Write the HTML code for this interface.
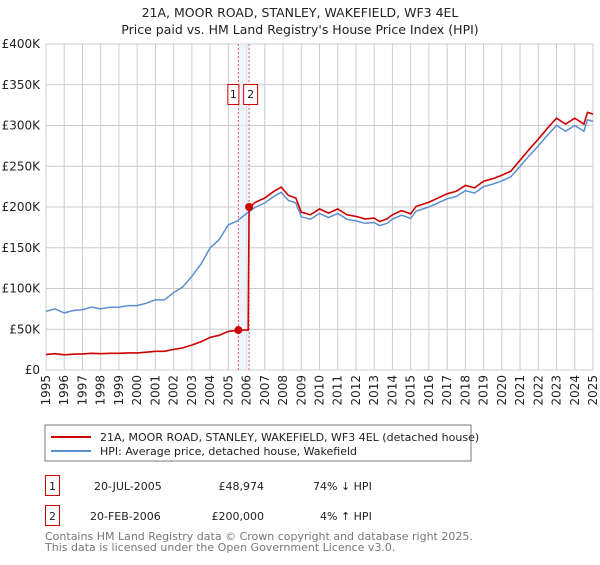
<!DOCTYPE html>
<html><head><meta charset="utf-8"><style>
body{margin:0;background:#fff;font-family:"Liberation Sans","DejaVu Sans",sans-serif;}
svg text{font-family:"DejaVu Sans","Liberation Sans",sans-serif;}
</style></head><body>
<svg id="c" width="600" height="560" xmlns="http://www.w3.org/2000/svg">
<text x="300" y="17" text-anchor="middle" font-size="12.5" fill="#222">21A, MOOR ROAD, STANLEY, WAKEFIELD, WF3 4EL</text>
<text x="300" y="34" text-anchor="middle" font-size="12.5" fill="#222">Price paid vs. HM Land Registry's House Price Index (HPI)</text>
<g id="grid"></g><g id="band"></g><g id="lines"></g><g id="marks"></g><g id="ax"></g>
<rect x="45" y="425" width="426" height="36" fill="#fff" stroke="#777"/>
<line x1="51" y1="437" x2="91" y2="437" stroke="#cc0000" stroke-width="2"/>
<text x="100" y="441" font-size="11" fill="#222">21A, MOOR ROAD, STANLEY, WAKEFIELD, WF3 4EL (detached house)</text>
<line x1="51" y1="451" x2="91" y2="451" stroke="#5b8fd0" stroke-width="2"/>
<text x="100" y="455" font-size="11" fill="#222">HPI: Average price, detached house, Wakefield</text>
<rect x="45.5" y="475.5" width="14" height="20" fill="#fff" stroke="#cc0000"/>
<text x="52.5" y="490" text-anchor="middle" font-size="11" fill="#222">1</text>
<text x="94" y="490" font-size="11" fill="#222">20-JUL-2005</text>
<text x="264" y="490" text-anchor="end" font-size="11" fill="#222">£48,974</text>
<text x="313" y="490" font-size="11" fill="#222">74% ↓ HPI</text>
<rect x="45.5" y="505.5" width="14" height="20" fill="#fff" stroke="#cc0000"/>
<text x="52.5" y="520" text-anchor="middle" font-size="11" fill="#222">2</text>
<text x="90" y="520" font-size="11" fill="#222">20-FEB-2006</text>
<text x="264" y="520" text-anchor="end" font-size="11" fill="#222">£200,000</text>
<text x="320" y="520" font-size="11" fill="#222">4% ↑ HPI</text>
<text x="45" y="540" font-size="11" fill="#777">Contains HM Land Registry data © Crown copyright and database right 2025.</text>
<text x="45" y="551" font-size="11" fill="#777">This data is licensed under the Open Government Licence v3.0.</text>
</svg>
<script>
const hpiYears=[1995,1995.5,1996,1996.5,1997,1997.5,1998,1998.5,1999,1999.5,2000,2000.5,2001,2001.5,2002,2002.5,2003,2003.5,2004,2004.5,2005,2005.5,2006,2006.5,2007,2007.5,2007.9,2008.3,2008.7,2009,2009.5,2010,2010.5,2011,2011.5,2012,2012.5,2013,2013.3,2013.7,2014,2014.5,2015,2015.3,2016,2016.5,2017,2017.5,2018,2018.5,2019,2019.5,2020,2020.5,2021,2021.5,2022,2022.5,2023,2023.5,2024,2024.5,2024.7,2025];
const hpiValues=[72000,75000,70000,73000,74000,77000,75000,77000,77000,79000,79000,82000,86000,86000,95000,102000,115000,130000,150000,160000,178000,183000,192000,200000,205000,213000,218000,208000,205000,188000,185000,192000,187000,192000,185000,183000,180000,181000,177000,180000,185000,190000,186000,195000,200000,205000,210000,213000,220000,217000,225000,228000,232000,237000,250000,263000,275000,288000,300000,293000,300000,293000,307000,305000];
const saleYears=[2005.55,2006.14];
const salePrices=[48974,200000];
const yTicks=[0,50000,100000,150000,200000,250000,300000,350000,400000];
const yTickLabels=["£0","£50K","£100K","£150K","£200K","£250K","£300K","£350K","£400K"];
const xTicks=[1995,1996,1997,1998,1999,2000,2001,2002,2003,2004,2005,2006,2007,2008,2009,2010,2011,2012,2013,2014,2015,2016,2017,2018,2019,2020,2021,2022,2023,2024,2025];
const X=y=>46+(y-1995)*(593-46)/30, Y=v=>370-v*(370-44)/400000;
const NS="http://www.w3.org/2000/svg";
function mk(p,t,a){const e=document.createElementNS(NS,t);for(const k in a)e.setAttribute(k,a[k]);document.getElementById(p).appendChild(e);return e;}
function hpiAt(t){for(let i=1;i<hpiYears.length;i++)if(t<=hpiYears[i]){const f=(t-hpiYears[i-1])/(hpiYears[i]-hpiYears[i-1]);return hpiValues[i-1]+f*(hpiValues[i]-hpiValues[i-1]);}return hpiValues[hpiValues.length-1];}
yTicks.forEach((v,i)=>{
 const l=mk('grid','line',{x1:46,x2:593,y1:Y(v),y2:Y(v),stroke:'#ccc','stroke-width':1});
 
 
 const t=mk('ax','text',{x:40,y:Y(v)+4,'text-anchor':'end','font-size':12,fill:'#222'});
 t.textContent=yTickLabels[i];
 
 
});
xTicks.forEach(v=>{
 const l=mk('grid','line',{x1:X(v),x2:X(v),y1:44,y2:370,stroke:'#ccc','stroke-width':1});
 
 
 const t=mk('ax','text',{x:0,y:0,'text-anchor':'end','font-size':12,fill:'#222',transform:`translate(${X(v)+4},375) rotate(-90)`});
 t.textContent=v;
 
 
});
const b=mk('band','rect',{x:X(saleYears[0]),y:44,width:X(saleYears[1])-X(saleYears[0]),height:326,fill:'#e8eefa',opacity:0.7});


saleYears.forEach((s,i)=>{
 const l=mk('band','line',{x1:X(s),x2:X(s),y1:44,y2:370,stroke:'#e55','stroke-width':1,'stroke-dasharray':'2,2'});
 
 
});
// HPI line
let d='';hpiYears.forEach((y,i)=>d+=(i?'L':'M')+X(y).toFixed(1)+','+Y(hpiValues[i]).toFixed(1));
const hl=mk('lines','path',{d:d,fill:'none',stroke:'#5b8fd0','stroke-width':1.5});


// property line
const r1=salePrices[0]/hpiAt(saleYears[0]), r2=salePrices[1]/hpiAt(saleYears[1]);
let pts=[];
hpiYears.forEach((y,i)=>{if(y<saleYears[0])pts.push([y,hpiValues[i]*r1]);});
pts.push([saleYears[0],salePrices[0]]);pts.push([saleYears[1]-0.05,salePrices[0]]);pts.push([saleYears[1],salePrices[1]]);
hpiYears.forEach((y,i)=>{if(y>saleYears[1])pts.push([y,hpiValues[i]*r2]);});
let d2='';pts.forEach((p,i)=>d2+=(i?'L':'M')+X(p[0]).toFixed(1)+','+Y(p[1]).toFixed(1));
const pl=mk('lines','path',{d:d2,fill:'none',stroke:'#cc0000','stroke-width':1.6});


saleYears.forEach((s,i)=>{
 const c=mk('marks','circle',{cx:X(s),cy:Y(salePrices[i]),r:4,fill:'#cc0000'});
 
 
 const bx=i===0?X(s)-11:X(s)-6;
 const r=mk('marks','rect',{x:bx+0.5,y:84.5,width:i===0?11:14,height:20,fill:'#fff',stroke:'#cc0000'});
 
 
 const t=mk('marks','text',{x:bx+(i===0?6:7.5),y:98,'text-anchor':'middle','font-size':11,fill:'#222'});
 t.textContent=String(i+1);
 
 
});
</script>
</body></html>
